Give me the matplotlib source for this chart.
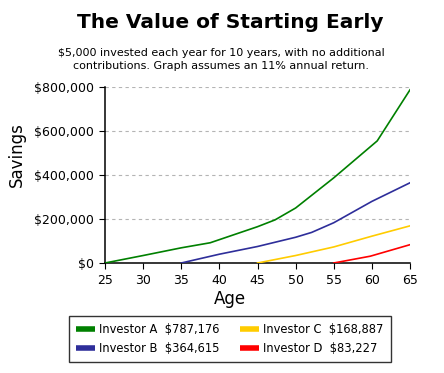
"""The value of starting early: savings by age for four investors."""

import matplotlib

matplotlib.use("Agg")
from matplotlib import pyplot as plt
from matplotlib.ticker import FuncFormatter

# values
AGES_A = [25, 30, 35, 38.8, 45, 47.3, 50, 55, 60.7, 65]
SAVINGS_A = [0, 34000, 69000, 92000, 165000, 196000, 250000, 387000, 555000, 787176]
AGES_B = [35, 40, 45, 50, 52.1, 55, 60, 65]
SAVINGS_B = [0, 40000, 75000, 117000, 139000, 183000, 280000, 364615]
AGES_C = [45, 50, 55, 60, 65]
SAVINGS_C = [0, 34000, 73000, 122000, 168887]
AGES_D = [55, 59.8, 65]
SAVINGS_D = [0, 31000, 83227]

INVESTORS = ["Investor A", "Investor B", "Investor C", "Investor D"]
FINAL_VALUES = ["$787,176", "$364,615", "$168,887", "$83,227"]
COLORS = ["#008000", "#2E2E9A", "#FFCC00", "#FF0000"]
X_TICKS = [25, 30, 35, 40, 45, 50, 55, 60, 65]
Y_TICKS = [0, 200000, 400000, 600000, 800000]

W, H = 444, 373
fig = plt.figure(figsize=(W / 100, H / 100), dpi=100)
ax = fig.add_axes([105 / W, 1 - 263 / H, 305 / W, 176 / H])

series = [
    (AGES_A, SAVINGS_A),
    (AGES_B, SAVINGS_B),
    (AGES_C, SAVINGS_C),
    (AGES_D, SAVINGS_D),
]
handles = []
for (ages, values), color in zip(series, COLORS):
    ax.plot(ages, values, color=color, linewidth=1.2, zorder=3)
    (handle,) = ax.plot([], [], color=color, linewidth=4, solid_capstyle="butt")
    handles.append(handle)

ax.set_xlim(25, 65)
ax.set_ylim(0, 800000)
ax.set_xticks(X_TICKS)
ax.set_yticks(Y_TICKS)
ax.yaxis.set_major_formatter(FuncFormatter(lambda v, _: f"${v:,.0f}"))
ax.tick_params(labelsize=9, length=4, width=0.8, colors="black", pad=4)
ax.spines["top"].set_visible(False)
ax.spines["right"].set_visible(False)
ax.spines["left"].set_linewidth(1.1)
ax.spines["bottom"].set_linewidth(1.1)
ax.grid(axis="y", color="#B4B4B4", linestyle=(0, (3, 3)), linewidth=0.8)
ax.set_axisbelow(True)
ax.set_xlabel("Age", fontsize=12)
ax.set_ylabel("Savings", fontsize=12)
ax.xaxis.set_label_coords((230 - 105) / 305, -(290 - 263) / 176)
ax.yaxis.set_label_coords(-(105 - 26) / 305, (263 - 155) / 176)

fig.text(230 / W, 1 - 22 / H, "The Value of Starting Early", ha="center", va="center",
         fontsize=14.5, fontweight="bold")
fig.text(221 / W, 1 - 59.5 / H,
         "$5,000 invested each year for 10 years, with no additional\n"
         "contributions. Graph assumes an 11% annual return.",
         ha="center", va="center", fontsize=8, linespacing=1.45)

labels = [f"{name}  {value}" for name, value in zip(INVESTORS, FINAL_VALUES)]
legend = fig.legend(
    handles,
    labels,
    ncol=2,
    loc="center",
    bbox_to_anchor=(230 / W, 1 - 339 / H),
    fontsize=8.3,
    frameon=True,
    fancybox=False,
    edgecolor="black",
    handlelength=1.6,
    handletextpad=0.4,
    columnspacing=1.8,
    borderpad=0.6,
    labelspacing=0.6,
)
legend.get_frame().set_linewidth(1.0)

fig.savefig("out.png", dpi=100)
